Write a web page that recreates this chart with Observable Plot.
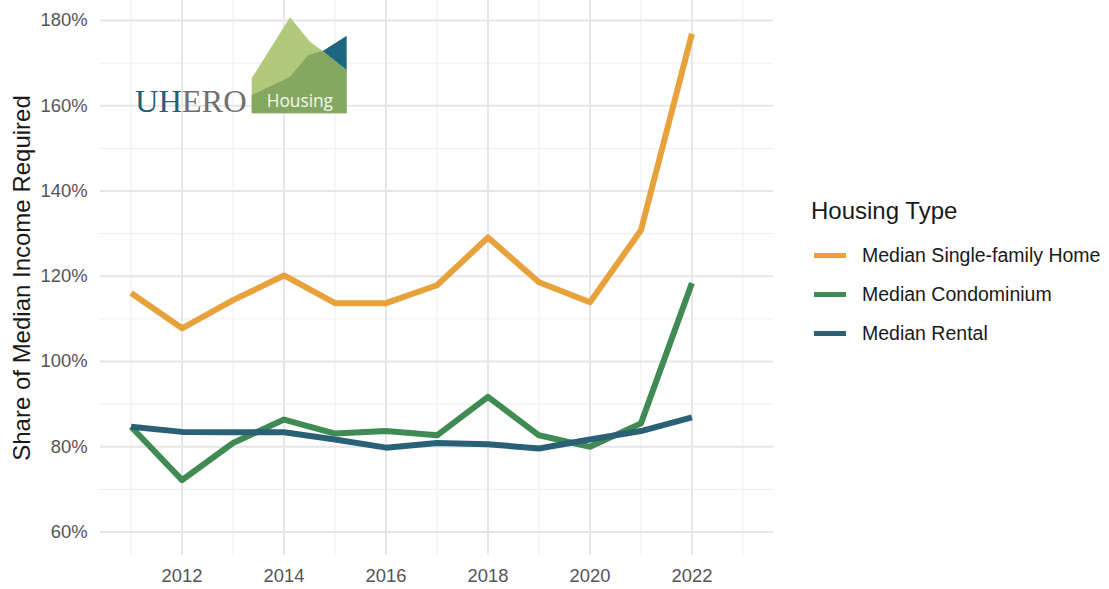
<!DOCTYPE html>
<html>
<head>
<meta charset="utf-8">
<script src="https://cdn.jsdelivr.net/npm/d3@7"></script>
<script src="https://cdn.jsdelivr.net/npm/@observablehq/plot@0.6"></script>
<style>
  html, body { margin: 0; padding: 0; background: #ffffff; }
  #wrap { position: relative; width: 1109px; height: 589px; overflow: hidden; background: #ffffff;
          font-family: "Liberation Sans", Arial, Helvetica, sans-serif; }
  #chart { position: absolute; left: 0; top: 0; }
  #chart svg [aria-label="y-axis label"] text { font-size: 24px; fill: #1a1a1a; }
  #legend { position: absolute; left: 811px; top: 195px; color: #1a1a1a; }
  #legend .title { font-size: 24px; line-height: 32px; margin-bottom: 9px; }
  #legend .item { display: flex; align-items: center; height: 39px; }
  #legend .key { width: 32px; height: 5.5px; margin-left: 3px; margin-right: 16px; }
  #legend .lab { font-size: 19.5px; }
  #logo { position: absolute; left: 0; top: 0; }
</style>
</head>
<body>
<div id="wrap">
  <div id="chart"></div>
  <svg id="logo" width="1109" height="589" viewBox="0 0 1109 589">
    <polygon points="251.7,78.3 290,17.3 310,41.7 322.7,51 346.7,70 346.7,113.3 251.7,113.3" fill="#b1c97b"/>
    <polygon points="251.7,95 290,76.7 308.3,55 322.7,51 346.7,70 346.7,113.3 251.7,113.3" fill="#84a862"/>
    <polygon points="322.7,51 346.7,35.7 346.7,70" fill="#1e6580"/>
    <text x="135" y="111.7" font-family="Liberation Serif, 'DejaVu Serif', serif" font-size="32.5" textLength="111.7"><tspan fill="#1f5f7a">UH</tspan><tspan fill="#707070">ERO</tspan></text>
    <text x="266.7" y="107.3" font-family="'Open Sans', sans-serif" font-size="17.3" fill="#f4f7ee">Housing</text>
  </svg>
  <div id="legend"></div>
</div>
<script>
// ---- data ----
const years = [2011, 2012, 2013, 2014, 2015, 2016, 2017, 2018, 2019, 2020, 2021, 2022];
const singleFamily = [116.1, 107.8, 114.4, 120.2, 113.7, 113.7, 117.9, 129.1, 118.6, 113.9, 130.8, 176.9];
const condominium  = [84.7, 72.2, 80.9, 86.4, 83.1, 83.7, 82.7, 91.7, 82.7, 80.0, 85.5, 118.4];
const rental       = [84.7, 83.5, 83.4, 83.4, 81.7, 79.8, 80.9, 80.6, 79.6, 81.7, 83.7, 86.9];
const housingTypes = ["Median Single-family Home", "Median Condominium", "Median Rental"];
const typeColors = ["#e8a23c", "#3f8b53", "#2b6177"];
const xMajorTicks = [2012, 2014, 2016, 2018, 2020, 2022];
const xMinorTicks = [2011, 2013, 2015, 2017, 2019, 2021, 2023];
const yMajorTicks = [60, 80, 100, 120, 140, 160, 180];
const yMinorTicks = [70, 90, 110, 130, 150, 170];

const seriesValues = [singleFamily, condominium, rental];
const rows = [];
housingTypes.forEach((t, i) => {
  years.forEach((y, j) => rows.push({ type: t, year: y, value: seriesValues[i][j] }));
});

const chart = Plot.plot({
  width: 780,
  height: 589,
  marginLeft: 100,
  marginRight: 7,
  marginTop: 0,
  marginBottom: 34,
  style: { fontFamily: "'Liberation Sans', Arial, Helvetica, sans-serif", background: "transparent", overflow: "visible" },
  x: { domain: [2010.4, 2023.6], label: null },
  y: { domain: [54.5, 184.7], label: null },
  color: { domain: housingTypes, range: typeColors },
  marks: [
    Plot.gridX(xMinorTicks, { stroke: "#ededed", strokeOpacity: 1, strokeWidth: 1 }),
    Plot.gridY(yMinorTicks, { stroke: "#ededed", strokeOpacity: 1, strokeWidth: 1 }),
    Plot.gridX(xMajorTicks, { stroke: "#e6e6e6", strokeOpacity: 1, strokeWidth: 1.9 }),
    Plot.gridY(yMajorTicks, { stroke: "#e6e6e6", strokeOpacity: 1, strokeWidth: 1.9 }),
    Plot.axisX(xMajorTicks, { tickSize: 0, tickPadding: 13, tickFormat: d => String(d), fontSize: 18.4, color: "#555555", label: null }),
    Plot.axisY(yMajorTicks, { tickSize: 0, tickPadding: 13, tickFormat: d => d + "%", fontSize: 18.4, color: "#555555",
      label: "Share of Median Income Required", labelAnchor: "center", labelArrow: "none", labelOffset: 88 }),
    Plot.line(rows, { x: "year", y: "value", z: "type", stroke: "type", strokeWidth: 6, strokeLinejoin: "round", strokeLinecap: "butt" })
  ]
});
document.getElementById("chart").appendChild(chart);

// legend
const colorScale = chart.scale("color");
const legend = document.getElementById("legend");
const title = document.createElement("div");
title.className = "title";
title.textContent = "Housing Type";
legend.appendChild(title);
colorScale.domain.forEach((t, i) => {
  const item = document.createElement("div");
  item.className = "item";
  const key = document.createElement("div");
  key.className = "key";
  key.style.background = colorScale.range[i];
  const lab = document.createElement("div");
  lab.className = "lab";
  lab.textContent = t;
  item.appendChild(key);
  item.appendChild(lab);
  legend.appendChild(item);
});
</script>
</body>
</html>
